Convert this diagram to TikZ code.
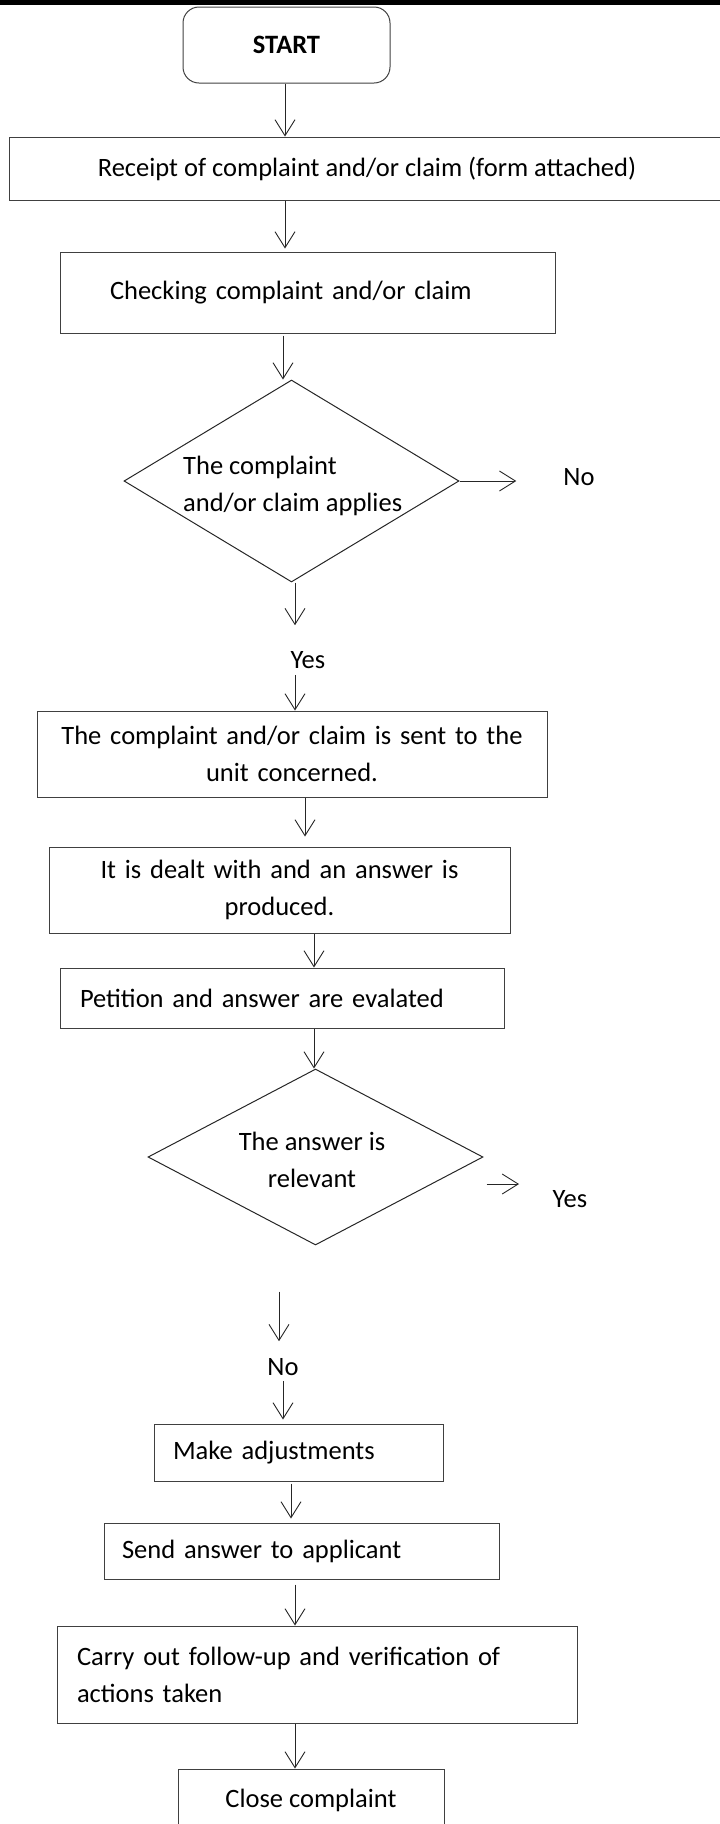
\documentclass[tikz,border=0pt]{standalone}
\usepackage{fontspec}
\setmainfont{Carlito}
\usetikzlibrary{arrows.meta,shapes.geometric}
\begin{document}
\begin{tikzpicture}[x=1pt,y=-1pt,
  txt/.style={font=\fontsize{26.5}{37}\selectfont},
  box/.style={txt, draw=black!75, line width=1pt, rectangle, inner sep=0pt},
  dia/.style={draw=black!85, line width=1pt, diamond, inner sep=0pt},
  lab/.style={txt, inner sep=0pt},
  arr/.style={draw=black!85, line width=0.9pt, -{Straight Barb[length=16pt,width=20pt]}}]
\useasboundingbox (0,0) rectangle (720,1824);
\clip (0,0) rectangle (720,1824);
\fill[black] (0,0) rectangle (720,4.5);
% nodes
\node[box, rounded corners=16pt, minimum width=207pt, minimum height=76pt, font=\fontsize{26.5}{37}\selectfont\bfseries] (start) at (286.5,45) {START};
\node[box, minimum width=716pt, minimum height=63pt] (receipt) at (367,168.5) {Receipt of complaint and/or claim (form attached)};
\node[box, minimum width=495pt, minimum height=81pt, text width=395pt, inner xsep=50pt, align=left] (chk) at (307.5,292.5) {Checking complaint and/or claim};
\node[dia, minimum width=335pt, minimum height=202pt] (d1) at (291.5,481) {};
\node[lab, align=left, anchor=west] (d1t) at (183,486) {The complaint\\and/or claim applies};
\node[lab] (no1) at (579,477) {No};
\node[lab] (yes1) at (308,660) {Yes};
\node[box, minimum width=510pt, minimum height=86pt, text width=480pt, align=center] (b5) at (292,754) {The complaint and/or claim is sent to the\\unit concerned.};
\node[box, minimum width=461pt, minimum height=86pt, text width=440pt, align=center] (b6) at (279.5,890) {It is dealt with and an answer is\\produced.};
\node[box, minimum width=444pt, minimum height=60pt, text width=404pt, inner xsep=20pt, align=left] (b7) at (282,998) {Petition and answer are evalated};
\node[dia, minimum width=335pt, minimum height=176pt] (d2) at (315.5,1157) {};
\node[lab, align=center] (d2t) at (312,1159.5) {The answer is\\relevant};
\node[lab] (yes2) at (570,1199) {Yes};
\node[lab] (no2) at (283,1367) {No};
\node[box, minimum width=289pt, minimum height=57pt, text width=251pt, inner xsep=19pt, align=left] (b10) at (298.5,1452.5) {Make adjustments};
\node[box, minimum width=395pt, minimum height=56pt, text width=359pt, inner xsep=18pt, align=left] (b11) at (301.5,1551) {Send answer to applicant};
\node[box, minimum width=520pt, minimum height=97pt, text width=480pt, inner xsep=20pt, align=left] (b12) at (317,1674.5) {Carry out follow-up and verification of\\actions taken};
\node[box, minimum width=266pt, minimum height=62pt] (b13) at (311,1800) {Close complaint};
% connectors
\draw[arr] ([xshift=-1.5pt]start.south) -- ([xshift=-82pt]receipt.north);
\draw[arr] ([xshift=-82pt]receipt.south) -- ([xshift=-22.5pt,yshift=3pt]chk.north);
\draw[arr] ([xshift=-24.5pt,yshift=-2pt]chk.south) -- ([xshift=-8.5pt]d1.north);
\draw[arr] (d1.east) -- ([xshift=-47pt,yshift=-4pt]no1.west);
\draw[arr, shorten >=26pt] ([xshift=3.5pt]d1.south) -- ([xshift=-13pt]yes1.north);
\draw[arr, shorten <=6pt] ([xshift=-13pt]yes1.south) -- ([xshift=3pt]b5.north);
\draw[arr, shorten >=10pt] ([xshift=13pt]b5.south) -- ([xshift=25.5pt]b6.north);
\draw[arr] ([xshift=34.5pt]b6.south) -- ([xshift=32pt]b7.north);
\draw[arr] ([xshift=32pt]b7.south) -- ([xshift=-1.5pt]d2.north);
\draw[arr] ([xshift=3pt,yshift=-27pt]d2.east) -- ([xshift=-33.5pt,yshift=15pt]yes2.west);
\draw[arr, shorten <=46pt, shorten >=17pt] ([xshift=-36.5pt]d2.south) -- ([xshift=-4pt]no2.north);
\draw[arr, shorten <=5pt, shorten >=4pt] (no2.south) -- ([xshift=-15.5pt]b10.north);
\draw[arr, shorten <=2pt, shorten >=4pt] ([xshift=-7.5pt]b10.south) -- ([xshift=-10.5pt]b11.north);
\draw[arr, shorten <=5pt] ([xshift=-6.5pt]b11.south) -- ([xshift=-22pt]b12.north);
\draw[arr] ([xshift=-22pt]b12.south) -- ([xshift=-16pt]b13.north);
\end{tikzpicture}
\end{document}
